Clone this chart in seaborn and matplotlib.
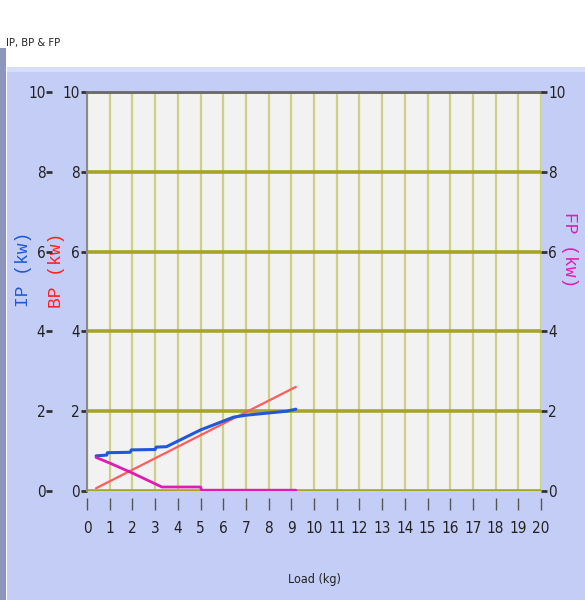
import seaborn as sns
import pandas as pd
import numpy as np
import matplotlib.pyplot as plt
from matplotlib.patches import Rectangle

# values
load_ip = [0.4, 0.87, 0.9, 1.9, 1.95, 3.0, 3.05, 3.5, 5.0, 6.45, 7.0, 7.9, 8.8, 9.2]
ip_kw = [0.88, 0.90, 0.96, 0.97, 1.03, 1.04, 1.10, 1.11, 1.53, 1.85, 1.90, 1.95, 2.00, 2.05]

load_bp = [0.4, 9.2]
bp_kw = [0.07, 2.61]

load_fp = [0.4, 1.0, 2.0, 3.3, 5.0, 5.05, 9.2]
fp_kw = [0.84, 0.70, 0.45, 0.10, 0.10, 0.02, 0.02]

x_ticks = list(range(0, 21))
y_ticks = [0, 2, 4, 6, 8, 10]

mono = ['Liberation Mono', 'DejaVu Sans Mono']

sns.set_style('white')
plt.rcParams['font.family'] = ['DejaVu Sans']
plt.rcParams['font.stretch'] = 'condensed'

W, H = 585, 600
fig = plt.figure(figsize=(W / 100, H / 100), dpi=100)
fig.patch.set_facecolor('white')

# panel background and left frame edge
fig.patches.append(Rectangle((7 / W, 0), 1, 1 - 67 / H, transform=fig.transFigure,
                             facecolor='#c4cdf5', edgecolor='none', zorder=-2))
fig.patches.append(Rectangle((7 / W, 1 - 72 / H), 1, 5 / H, transform=fig.transFigure,
                             facecolor='#d6ddf8', edgecolor='none', zorder=-1))
fig.patches.append(Rectangle((0, 0), 6 / W, 1 - 48 / H, transform=fig.transFigure,
                             facecolor='#8d96bd', edgecolor='none', zorder=-1))

ax = fig.add_axes([87 / W, 1 - 491 / H, 454 / W, 399 / H])
ax.set_facecolor('#f2f2f2')

sns.lineplot(x=load_bp, y=bp_kw, ax=ax, color='#ff5c5c', lw=1.6, sort=False, estimator=None, zorder=3)
sns.lineplot(x=load_ip, y=ip_kw, ax=ax, color='#1f58d8', lw=2.2, sort=False, estimator=None, zorder=4)
sns.lineplot(x=load_fp, y=fp_kw, ax=ax, color='#e01cb4', lw=2.0, sort=False, estimator=None, zorder=5)

ax.set_xlim(0, 20)
ax.set_ylim(0, 10)
ax.set_xticks(x_ticks)
ax.set_xticklabels([str(t) for t in x_ticks])
ax.set_yticks(y_ticks)
ax.set_yticklabels([str(t) for t in y_ticks])

ax.set_axisbelow(True)
ax.xaxis.grid(True, color='#cfcf88', lw=1.6)
ax.yaxis.grid(True, color='#a6a626', lw=2.6)

for side in ['right', 'bottom']:
    ax.spines[side].set_visible(False)
ax.spines['top'].set_color('#6a6a6a')
ax.spines['top'].set_linewidth(2)
ax.spines['left'].set_color('#8a8a8a')
ax.spines['left'].set_linewidth(1.5)
ax.spines['bottom'].set_position(('outward', 5))

ax.tick_params(axis='x', direction='out', length=8.5, width=1.0, color='#555555',
               pad=8, labelsize=11, labelcolor='#222222', bottom=True)
ax.tick_params(axis='y', direction='out', length=4, width=2, color='#333333',
               pad=1, labelsize=11, labelcolor='#222222', left=True)

ax.set_xlabel('Load (kg)', fontsize=9, color='#222222')
ax.xaxis.set_label_coords(0.5, -0.205)
ax.set_ylabel('BP (kw)', family=mono, fontsize=13, color='#ff2020', rotation=90)
ax.yaxis.set_label_coords(-0.048, 0.554)

# outer left axis for IP
ax_ip = ax.twinx()
ax_ip.set_ylim(0, 10)
ax_ip.set_yticks(y_ticks)
ax_ip.set_yticklabels([str(t) for t in y_ticks])
ax_ip.yaxis.set_ticks_position('left')
ax_ip.yaxis.set_label_position('left')
ax_ip.spines['left'].set_position(('outward', 25))
for side in ['left', 'right', 'top', 'bottom']:
    ax_ip.spines[side].set_visible(False)
ax_ip.tick_params(axis='y', direction='out', length=4, width=2, color='#333333',
                  pad=1, labelsize=11, labelcolor='#222222', left=True, right=False,
                  labelleft=True, labelright=False)
ax_ip.set_ylabel('IP (kw)', family=mono, fontsize=13, color='#1f58d8', rotation=90)
ax_ip.yaxis.set_label_coords(-0.121, 0.556)

# right axis for FP
ax_fp = ax.twinx()
ax_fp.set_ylim(0, 10)
ax_fp.set_yticks(y_ticks)
ax_fp.set_yticklabels([str(t) for t in y_ticks])
for side in ['left', 'right', 'top', 'bottom']:
    ax_fp.spines[side].set_visible(False)
ax_fp.tick_params(axis='y', direction='out', length=4, width=2, color='#333333',
                  pad=1, labelsize=11, labelcolor='#222222')
ax_fp.set_ylabel('FP (kw)', family=mono, fontsize=13, color='#e01cb4', rotation=270)
ax_fp.yaxis.set_label_coords(1.081, 0.604)

fig.text(6 / W, 1 - 43 / H, 'IP, BP & FP', fontsize=8, color='#222222', va='center', ha='left')

fig.savefig('out.png', dpi=100)
